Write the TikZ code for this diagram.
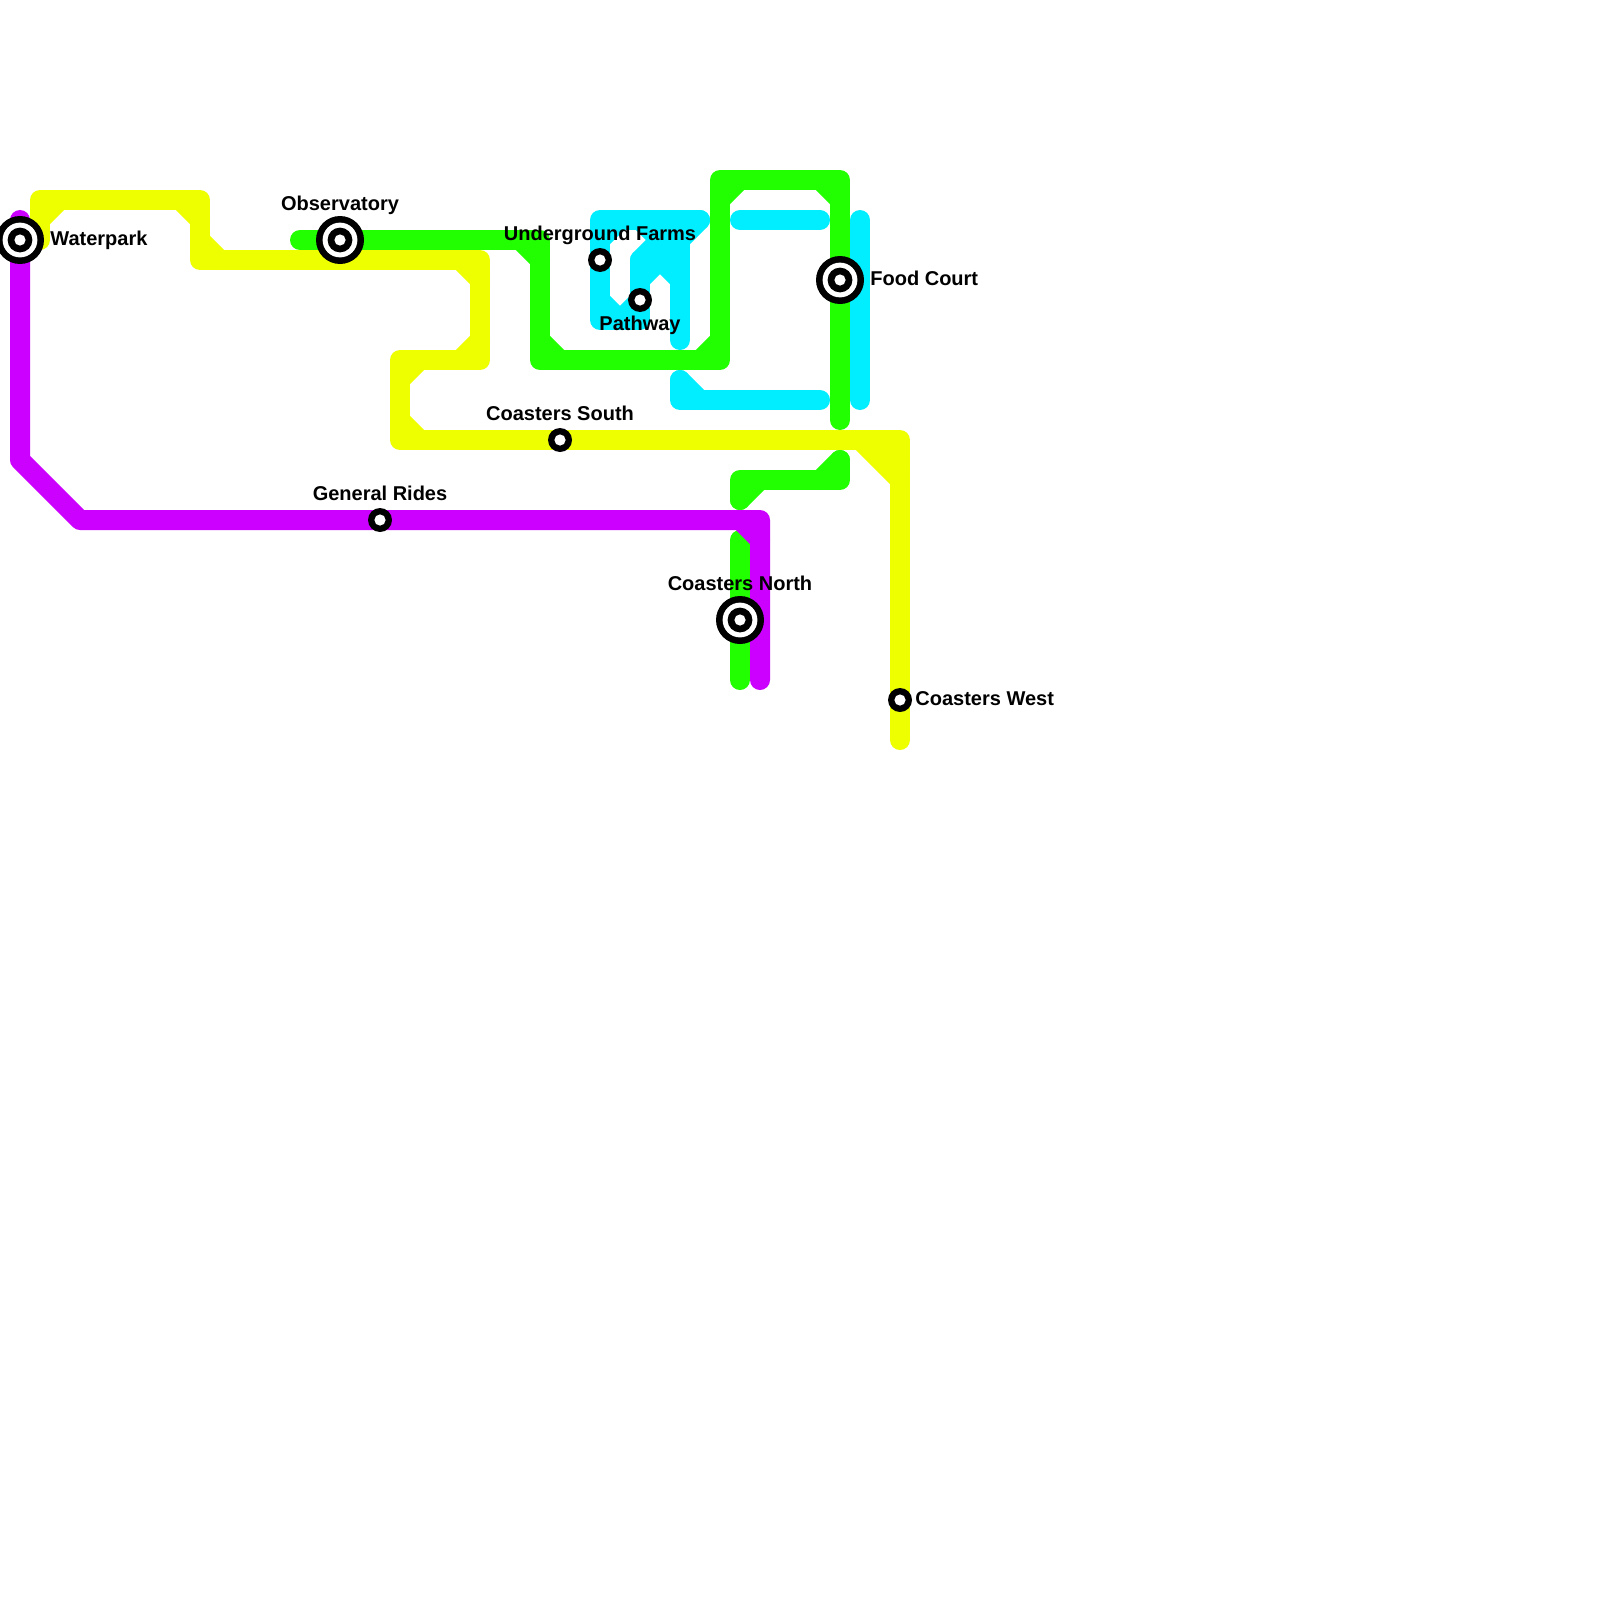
\documentclass[tikz,border=0pt]{standalone}
\usepackage{fontspec}
\setmainfont{Liberation Sans}
\definecolor{lyellow}{HTML}{EEFF00}
\definecolor{lgreen}{HTML}{22FF00}
\definecolor{lcyan}{HTML}{00EEFF}
\definecolor{lpurple}{HTML}{CC00FF}
\tikzset{
  x=0.5pt,y=-0.5pt,
  route/.style={line width=10pt,line cap=round,line join=round},
  yellowline/.style={route,draw=lyellow},
  greenline/.style={route,draw=lgreen},
  cyanline/.style={route,draw=lcyan},
  purpleline/.style={route,draw=lpurple},
  stop/.style={circle,fill=black,inner sep=0pt,minimum size=12pt,
    path picture={\fill[white] (path picture bounding box.center) circle (2.8pt);}},
  interchange/.style={circle,fill=black,inner sep=0pt,minimum size=24pt,
    path picture={
      \fill[white] (path picture bounding box.center) circle (8.7pt);
      \fill[black] (path picture bounding box.center) circle (6.2pt);
      \fill[white] (path picture bounding box.center) circle (2.8pt);}},
  stoplabel/.style={inner sep=0pt,font=\fontsize{10pt}{12pt}\selectfont\bfseries,text=black},
  above label/.style={stoplabel,anchor=base},
  side label/.style={stoplabel,anchor=base west},
}
\begin{document}
\begin{tikzpicture}
\useasboundingbox[fill=white] (0,0) rectangle (1600,1600);

% cyan
\draw[cyanline] (700,220) coordinate (c1a) -- (600,220) -- (600,320) -- (640,320) -- (640,260) -- (680,260) -- (680,340) coordinate (c1b);
\draw[cyanline] (600,240) -- (620,220);
\draw[cyanline] (600,300) -- (620,320);
\draw[cyanline] (620,320) -- (640,300);
\draw[cyanline] (640,280) -- (660,260);
\draw[cyanline] (660,260) -- (680,280);
\draw[cyanline] (640,260) -- (660,240) -- (680,240) -- (700,220);
\draw[cyanline] (680,240) -- (680,260);
\draw[cyanline] (640,220) -- (660,240);
\draw[cyanline] (660,220) -- (660,240);
\draw[cyanline] (740,220) coordinate (c2a) -- (820,220) coordinate (c2b);
\draw[cyanline] (860,220) coordinate (c3a) -- (860,400) coordinate (c3b);
\draw[cyanline] (680,380) coordinate (c4a) -- (680,400) -- (820,400) coordinate (c4b);
\draw[cyanline] (680,380) -- (700,400);

% yellow
\draw[yellowline] (40,240) coordinate (y1a) -- (40,200) -- (200,200) -- (200,260) -- (480,260) -- (480,360) -- (400,360) -- (400,440) -- (900,440) -- (900,740) coordinate (y1b);
\draw[yellowline] (40,220) -- (60,200);
\draw[yellowline] (180,200) -- (200,220);
\draw[yellowline] (200,240) -- (220,260);
\draw[yellowline] (460,260) -- (480,280);
\draw[yellowline] (480,340) -- (460,360);
\draw[yellowline] (420,360) -- (400,380);
\draw[yellowline] (400,420) -- (420,440);
\draw[yellowline] (860,440) -- (900,480);
\draw[yellowline] (880,440) -- (900,460);

% green
\draw[greenline] (300,240) coordinate (g1a) -- (540,240) -- (540,360) -- (720,360) -- (720,180) -- (840,180) -- (840,420) coordinate (g1b);
\draw[greenline] (520,240) -- (540,260);
\draw[greenline] (540,340) -- (560,360);
\draw[greenline] (700,360) -- (720,340);
\draw[greenline] (720,200) -- (740,180);
\draw[greenline] (820,180) -- (840,200);
\draw[greenline] (840,460) coordinate (g2a) -- (840,480) -- (740,480) -- (740,500) coordinate (g2b);
\draw[greenline] (840,460) -- (820,480);
\draw[greenline] (740,500) -- (760,480);
\draw[greenline] (740,540) coordinate (g3a) -- (740,680) coordinate (g3b);

% purple
\draw[purpleline] (20,220) coordinate (p1a) -- (20,460) -- (80,520) -- (760,520) -- (760,680) coordinate (p1b);
\draw[purpleline] (740,520) -- (760,540);

% stations
\node[interchange] (waterpark) at (20,240) {};
\node[interchange] (observatory) at (340,240) {};
\node[interchange] (foodcourt) at (840,280) {};
\node[interchange] (coastersnorth) at (740,620) {};
\node[stop] (underground) at (600,260) {};
\node[stop] (pathway) at (640,300) {};
\node[stop] (coasterssouth) at (560,440) {};
\node[stop] (generalrides) at (380,520) {};
\node[stop] (coasterswest) at (900,700) {};

% labels
\node[side label] (lwaterpark) at (50,245) {Waterpark};
\node[above label] (lobservatory) at (340,210) {Observatory};
\node[side label] (lfoodcourt) at (870,285) {Food Court};
\node[above label] (lcoastersnorth) at (740,590) {Coasters North};
\node[above label] (lunderground) at (600,240) {Underground Farms};
\node[above label] (lpathway) at (640,330) {Pathway};
\node[above label] (lcoasterssouth) at (560,420) {Coasters South};
\node[above label] (lgeneralrides) at (380,500) {General Rides};
\node[side label] (lcoasterswest) at (915,705) {Coasters West};
\end{tikzpicture}
\end{document}
